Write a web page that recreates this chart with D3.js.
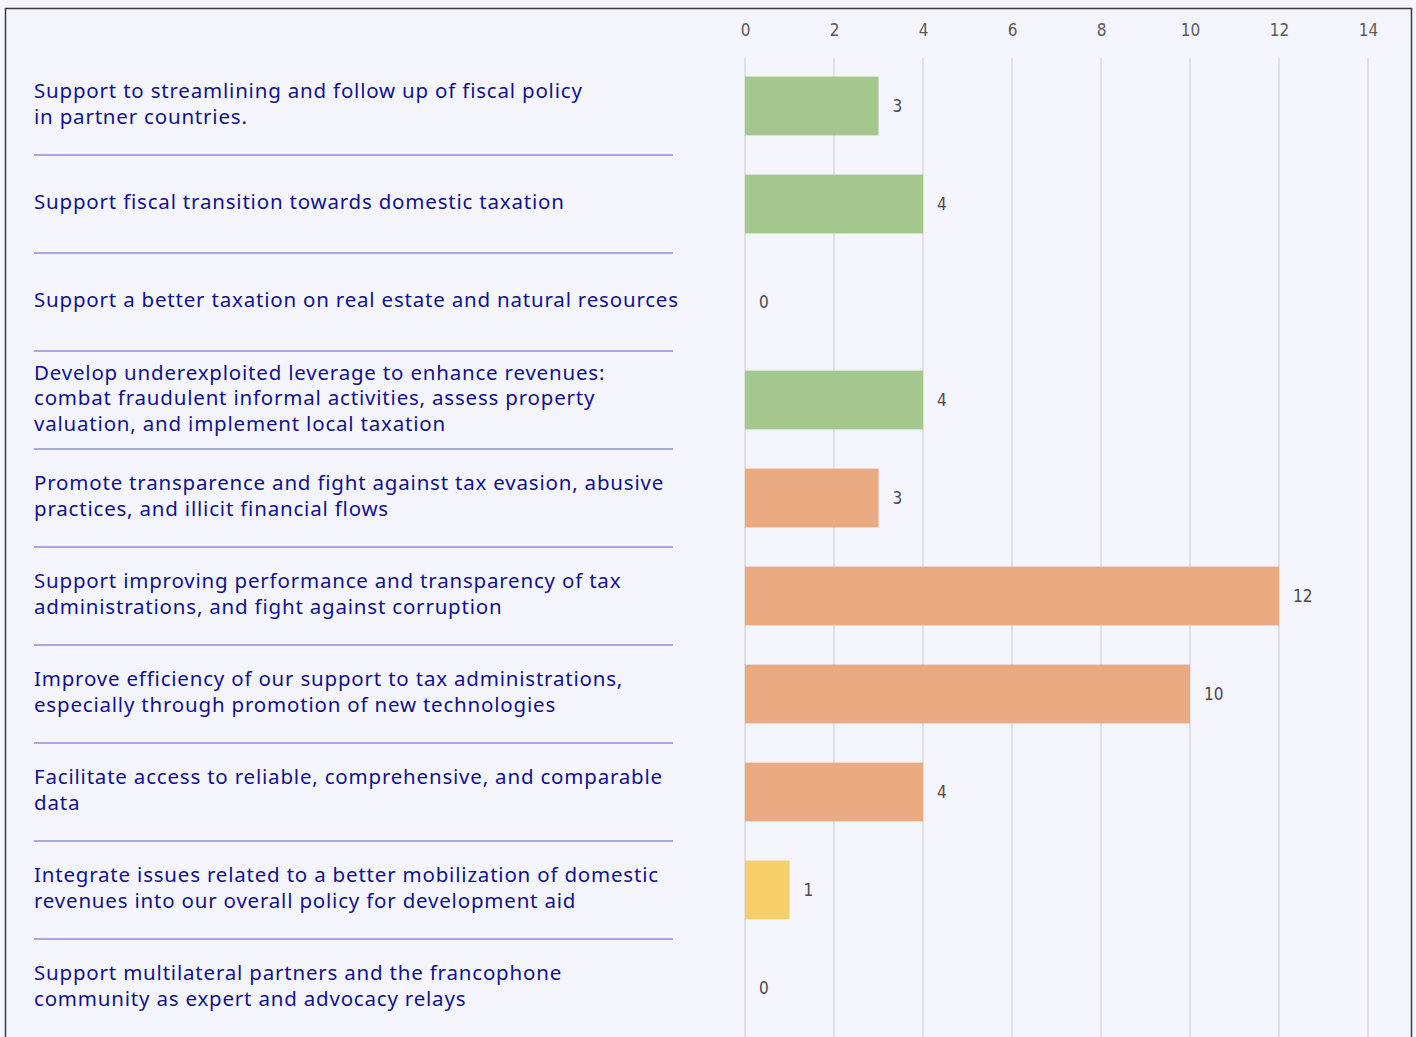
<!DOCTYPE html>
<html>
<head>
<meta charset="utf-8">
<script src="https://cdn.jsdelivr.net/npm/d3@7"></script>
<style>
  html, body { margin: 0; padding: 0; background: #f4f5fd; }
  svg { display: block; }
</style>
</head>
<body>
<div id="chart"></div>
<script>
// Categories (each label already broken into its lines)
const categories = [
  ['Support to streamlining and follow up of fiscal policy', 'in partner countries.'],
  ['Support fiscal transition towards domestic taxation'],
  ['Support a better taxation on real estate and natural resources'],
  ['Develop underexploited leverage to enhance revenues:', 'combat fraudulent informal activities, assess property', 'valuation, and implement local taxation'],
  ['Promote transparence and fight against tax evasion, abusive', 'practices, and illicit financial flows'],
  ['Support improving performance and transparency of tax', 'administrations, and fight against corruption'],
  ['Improve efficiency of our support to tax administrations,', 'especially through promotion of new technologies'],
  ['Facilitate access to reliable, comprehensive, and comparable', 'data'],
  ['Integrate issues related to a better mobilization of domestic', 'revenues into our overall policy for development aid'],
  ['Support multilateral partners and the francophone', 'community as expert and advocacy relays']
];
const values = [3, 4, 0, 4, 3, 12, 10, 4, 1, 0];
const groups = ['a', 'a', 'a', 'a', 'b', 'b', 'b', 'b', 'c', 'c'];
const tickValues = [0, 2, 4, 6, 8, 10, 12, 14];

const groupColor = { a: '#a3c78c', b: '#eaab83', c: '#f5d06a' };

const W = 1416, H = 1037;
const svg = d3.select('#chart').append('svg')
  .attr('width', W).attr('height', H);

svg.append('rect').attr('width', W).attr('height', H).attr('fill', '#f4f5fd');

// frame
svg.append('path')
  .attr('d', `M5.5,${H} V8.5 H1411.5 V${H}`)
  .attr('fill', 'none')
  .attr('stroke', '#3a3a3a')
  .attr('stroke-width', 1.5);

const x = d3.scaleLinear().domain([0, 14]).range([745, 1368]);
const y = d3.scaleBand()
  .domain(d3.range(categories.length))
  .range([57, 1037])
  .paddingInner(0.4)
  .paddingOuter(0.2);

// gridlines
svg.append('g').selectAll('line')
  .data(tickValues).enter().append('line')
  .attr('x1', d => x(d)).attr('x2', d => x(d))
  .attr('y1', 58).attr('y2', H)
  .attr('stroke', '#d2d3da')
  .attr('stroke-width', 1.2);

// top axis labels
const axis = svg.append('g')
  .attr('transform', 'translate(0,36)')
  .call(d3.axisTop(x).tickValues(tickValues).tickSize(0).tickPadding(0));
axis.select('.domain').remove();
axis.selectAll('text')
  .attr('fill', '#5a5a5a')
  .attr('font-size', 17)
  .attr('font-family', '"Liberation Sans Narrow", "DejaVu Sans Condensed", sans-serif')
  .style('font-stretch', 'condensed');

// bars
svg.append('g').selectAll('rect')
  .data(values).enter().append('rect')
  .attr('x', x(0))
  .attr('y', (d, i) => y(i))
  .attr('width', d => x(d) - x(0))
  .attr('height', y.bandwidth())
  .attr('fill', (d, i) => groupColor[groups[i]]);

// value labels
svg.append('g').selectAll('text')
  .data(values).enter().append('text')
  .attr('x', d => x(d) + 14)
  .attr('y', (d, i) => y(i) + y.bandwidth() / 2)
  .attr('dy', '0.35em')
  .text(d => d)
  .attr('fill', '#4a4a4a')
  .attr('font-size', 17)
  .attr('font-family', '"Liberation Sans Narrow", "DejaVu Sans Condensed", sans-serif')
  .style('font-stretch', 'condensed');

// separators between category labels
const step = y.step();
svg.append('g').selectAll('line')
  .data(d3.range(1, categories.length)).enter().append('line')
  .attr('x1', 34).attr('x2', 673)
  .attr('y1', i => y(i) - (step - y.bandwidth()) / 2)
  .attr('y2', i => y(i) - (step - y.bandwidth()) / 2)
  .attr('stroke', '#8e8ed8')
  .attr('stroke-width', 1.5);

// category labels
const lineH = 25.5;
const lbl = svg.append('g').selectAll('text')
  .data(categories).enter().append('text')
  .attr('x', 34)
  .attr('y', (d, i) => y(i) + y.bandwidth() / 2 - 2 - (d.length - 1) * lineH / 2)
  .attr('fill', '#11118e')
  .attr('font-size', 20.5)
  .attr('letter-spacing', 0.8)
  .attr('font-family', '"Noto Sans", sans-serif')
  .style('font-variant-ligatures', 'none');
lbl.selectAll('tspan')
  .data(d => d).enter().append('tspan')
  .attr('x', 34)
  .attr('dy', (d, j) => j === 0 ? '0.35em' : lineH)
  .text(d => d);
</script>
</body>
</html>
